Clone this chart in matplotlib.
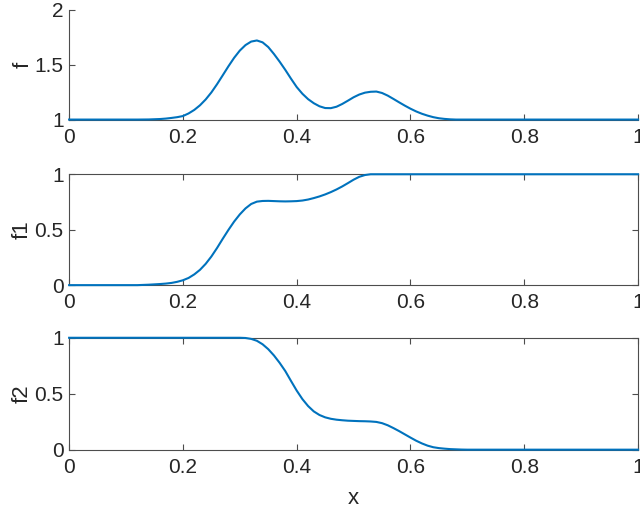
import matplotlib

matplotlib.use("Agg")

import matplotlib.pyplot as plt

plt.rcParams["font.family"] = ["Liberation Sans", "DejaVu Sans"]

X = [0.00, 0.05, 0.10, 0.12, 0.14, 0.15, 0.16, 0.17, 0.18, 0.19,
     0.20, 0.21, 0.22, 0.23, 0.24, 0.25, 0.26, 0.27, 0.28, 0.29,
     0.30, 0.31, 0.32, 0.33, 0.34, 0.35, 0.36, 0.37, 0.38, 0.39,
     0.40, 0.41, 0.42, 0.43, 0.44, 0.45, 0.46, 0.47, 0.48, 0.49,
     0.50, 0.51, 0.52, 0.53, 0.54, 0.55, 0.56, 0.57, 0.58, 0.59,
     0.60, 0.61, 0.62, 0.63, 0.64, 0.65, 0.66, 0.67, 0.68, 0.69,
     0.70, 0.75, 0.80, 0.90, 1.00]

F = [1.0, 1.0, 1.0, 1.0, 1.001, 1.003, 1.005, 1.009, 1.015, 1.022,
     1.032, 1.056, 1.088, 1.13, 1.183, 1.247, 1.322, 1.403, 1.485, 1.562,
     1.628, 1.678, 1.71, 1.72, 1.703, 1.66, 1.597, 1.527, 1.452, 1.372,
     1.296, 1.235, 1.186, 1.149, 1.121, 1.105, 1.104, 1.117, 1.142, 1.172,
     1.203, 1.228, 1.245, 1.253, 1.255, 1.242, 1.218, 1.188, 1.157, 1.127,
     1.099, 1.074, 1.053, 1.036, 1.022, 1.012, 1.006, 1.002, 1.0, 1.0,
     1.0, 1.0, 1.0, 1.0, 1.0]

F1 = [0.0, 0.0, 0.0, 0.0, 0.004, 0.007, 0.01, 0.014, 0.02, 0.03,
      0.044, 0.065, 0.097, 0.138, 0.192, 0.258, 0.335, 0.418, 0.498, 0.573,
      0.638, 0.692, 0.732, 0.753, 0.759, 0.76, 0.758, 0.756, 0.755, 0.756,
      0.758, 0.763, 0.772, 0.785, 0.80, 0.818, 0.839, 0.863, 0.89, 0.92,
      0.951, 0.977, 0.993, 1.0, 1.0, 1.0, 1.0, 1.0, 1.0, 1.0,
      1.0, 1.0, 1.0, 1.0, 1.0, 1.0, 1.0, 1.0, 1.0, 1.0,
      1.0, 1.0, 1.0, 1.0, 1.0]

F2 = [1.0, 1.0, 1.0, 1.0, 1.0, 1.0, 1.0, 1.0, 1.0, 1.0,
      1.0, 1.0, 1.0, 1.0, 1.0, 1.0, 1.0, 1.0, 1.0, 1.0,
      1.0, 0.998, 0.99, 0.973, 0.942, 0.898, 0.842, 0.776, 0.702, 0.614,
      0.528, 0.452, 0.39, 0.342, 0.31, 0.289, 0.276, 0.268, 0.263, 0.259,
      0.257, 0.255, 0.254, 0.252, 0.248, 0.237, 0.218, 0.193, 0.166, 0.137,
      0.108, 0.08, 0.056, 0.036, 0.022, 0.014, 0.009, 0.005, 0.003, 0.001,
      0.0, 0.0, 0.0, 0.0, 0.0]

X_TICKS = [0, 0.2, 0.4, 0.6, 0.8, 1]
X_TICK_LABELS = ["0", "0.2", "0.4", "0.6", "0.8", "1"]

PANELS = [
    {"y": F, "label": "f", "ylim": (1, 2), "yticks": [1, 1.5, 2],
     "yticklabels": ["1", "1.5", "2"], "box": False},
    {"y": F1, "label": "f1", "ylim": (0, 1), "yticks": [0, 0.5, 1],
     "yticklabels": ["0", "0.5", "1"], "box": True},
    {"y": F2, "label": "f2", "ylim": (0, 1), "yticks": [0, 0.5, 1],
     "yticklabels": ["0", "0.5", "1"], "box": True},
]

LINE = "#0072bd"
AXIS = "#4d4d4d"
TEXT = "#262626"


def style_axes(ax, panel):
    ax.set_xlim(0, 1)
    ax.set_ylim(*panel["ylim"])
    ax.set_xticks(X_TICKS)
    ax.set_xticklabels(X_TICK_LABELS)
    ax.set_yticks(panel["yticks"])
    ax.set_yticklabels(panel["yticklabels"])
    ax.set_ylabel(panel["label"], fontsize=16, color=TEXT, labelpad=1)
    ax.tick_params(direction="in", length=4, width=0.8, colors=AXIS,
                   labelsize=15, labelcolor=TEXT,
                   top=panel["box"], right=panel["box"])
    ax.tick_params(axis="x", pad=6)
    ax.tick_params(axis="y", pad=4)
    for name, spine in ax.spines.items():
        spine.set_color(AXIS)
        spine.set_linewidth(0.8)
        if name in ("top", "right"):
            spine.set_visible(panel["box"])


def main():
    fig = plt.figure(figsize=(6.4, 5.11), dpi=100)
    bounds = [
        [0.108, 0.766, 0.889, 0.215],
        [0.108, 0.442, 0.889, 0.217],
        [0.108, 0.120, 0.889, 0.219],
    ]
    for rect, panel in zip(bounds, PANELS):
        ax = fig.add_axes(rect)
        ax.plot(X, panel["y"], color=LINE, lw=1.5, clip_on=False, zorder=3)
        style_axes(ax, panel)
    ax.set_xlabel("x", fontsize=16, color=TEXT, labelpad=8)

    fig.savefig("out.png", dpi=100)
    plt.close(fig)


if __name__ == "__main__":
    main()
